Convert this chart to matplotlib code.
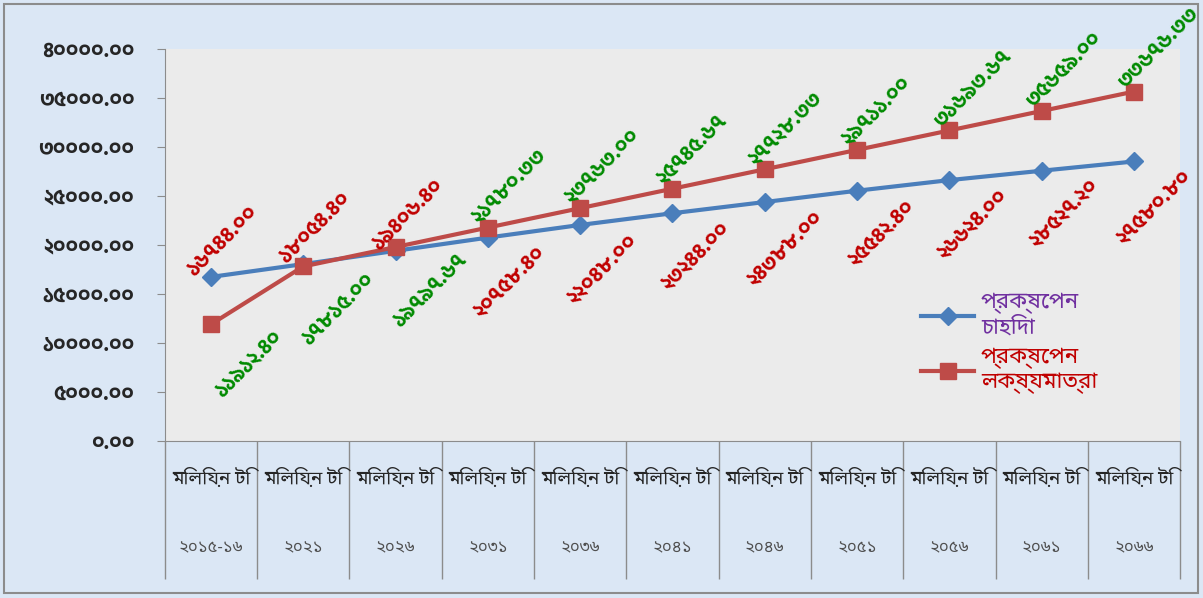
import numpy as np
import matplotlib
matplotlib.use("Agg")
import matplotlib.pyplot as plt
import matplotlib.transforms as mtransforms

# data
unit = "মিলিয়ন টি"
years = ["২০১৫-১৬", "২০২১", "২০২৬", "২০৩১", "২০৩৬", "২০৪১", "২০৪৬", "২০৫১", "২০৫৬", "২০৬১", "২০৬৬"]
demand = [16744.00, 18054.40, 19406.40, 20758.40, 22048.00, 23244.00, 24388.00, 25542.40, 26624.00, 27580.80, 28527.20]
target = [11912.40, 17815.00, 19797.67, 21780.33, 23763.00, 25745.67, 27728.33, 29711.00, 31693.67, 33676.33, 35659.00]
demand_labels = ["১৬৭৪৪.০০", "১৮০৫৪.৪০", "১৯৪০৬.৪০", "২০৭৫৮.৪০", "২২০৪৮.০০", "২৩২৪৪.০০",
                 "২৪৩৮৮.০০", "২৫৫৪২.৪০", "২৬৬২৪.০০", "২৮৫২৭.২০", "২৭৫৮০.৮০"]
target_labels = ["১১৯১২.৪০", "১৭৮১৫.০০", "১৯৭৯৭.৬৭", "২১৭৮০.৩৩", "২৩৭৬৩.০০", "২৫৭৪৫.৬৭",
                 "২৭৭২৮.৩৩", "২৯৭১১.০০", "৩১৬৯৩.৬৭", "৩৫৬৫৯.০০", "৩৩৬৭৬.৩৩"]
series_names = ["প্রক্ষেপন\nচাহিদা", "প্রক্ষেপন\nলক্ষ্যমাত্রা"]

plt.rcParams["font.family"] = ["Noto Sans Bengali", "DejaVu Sans"]
label_font = ["Hind Siliguri", "DejaVu Sans"]

bn_digits = str.maketrans("0123456789", "০১২৩৪৫৬৭৮৯")

fig = plt.figure(figsize=(12.03, 5.98), dpi=100, facecolor="#dbe7f5")
ax = fig.add_axes([0.137, 0.2625, 0.844, 0.6555])
ax.set_facecolor("#ebebeb")

x = np.arange(len(years))
ax.plot(x, demand, color="#4a7ebb", lw=3, marker="D", ms=9, zorder=3)
ax.plot(x, target, color="#be4b48", lw=3, marker="s", ms=12, zorder=4)

ax.set_xlim(-0.5, len(years) - 0.5)
ax.set_ylim(0, 40000)
yt = np.arange(0, 40001, 5000)
ax.set_yticks(yt)
ax.set_yticklabels([("%.2f" % v).translate(bn_digits) for v in yt],
                   fontsize=15, fontweight="bold", color="#262626", family=label_font)
ax.tick_params(axis="y", length=6, color="#8c8c8c", pad=16)

# category table below the axis
ax.set_xticks(x)
ax.set_xticklabels([])
ax.tick_params(axis="x", which="major", length=0)
ax.set_xticks(np.arange(-0.5, len(years), 1), minor=True)
ax.tick_params(axis="x", which="minor", length=99, color="#8c8c8c", width=1)
tr = mtransforms.blended_transform_factory(ax.transData, ax.transAxes)
for i, yr in enumerate(years):
    ax.text(i, -0.095, unit, transform=tr, ha="center", va="center", fontsize=13.5, color="#262626")
    ax.text(i, -0.275, yr, transform=tr, ha="center", va="center", fontsize=12, color="#505050")

for s in ["top", "right"]:
    ax.spines[s].set_visible(False)
for s in ["left", "bottom"]:
    ax.spines[s].set_color("#8c8c8c")

# data labels
lbl = dict(textcoords="offset points", rotation=45, rotation_mode="anchor",
           fontsize=15, fontweight="bold", family=label_font, zorder=5)
for i in range(len(x)):
    if i < 3:
        ax.annotate(demand_labels[i], (x[i], demand[i]), xytext=(-10, -2),
                    ha="left", va="bottom", color="#c00000", **lbl)
        ax.annotate(target_labels[i], (x[i], target[i]), xytext=(44, -2),
                    ha="right", va="top", color="#008a00", **lbl)
    else:
        ax.annotate(demand_labels[i], (x[i], demand[i]), xytext=(34, -4),
                    ha="right", va="top", color="#c00000", **lbl)
        ax.annotate(target_labels[i], (x[i], target[i]), xytext=(-4, 0),
                    ha="left", va="bottom", color="#008a00", **lbl)

leg = ax.legend(series_names, loc="upper left", bbox_to_anchor=(0.725, 0.43), frameon=False,
                fontsize=16, handlelength=2.4, labelspacing=0.4, handletextpad=0.3,
                labelcolor=["#7030a0", "#c00000"])

# outer border
fig.patches.append(plt.Rectangle((0.003, 0.008), 0.993, 0.985, transform=fig.transFigure,
                                 fill=False, edgecolor="#8c8c8c", lw=1.5))

fig.savefig("out.png", dpi=100, facecolor=fig.get_facecolor())
